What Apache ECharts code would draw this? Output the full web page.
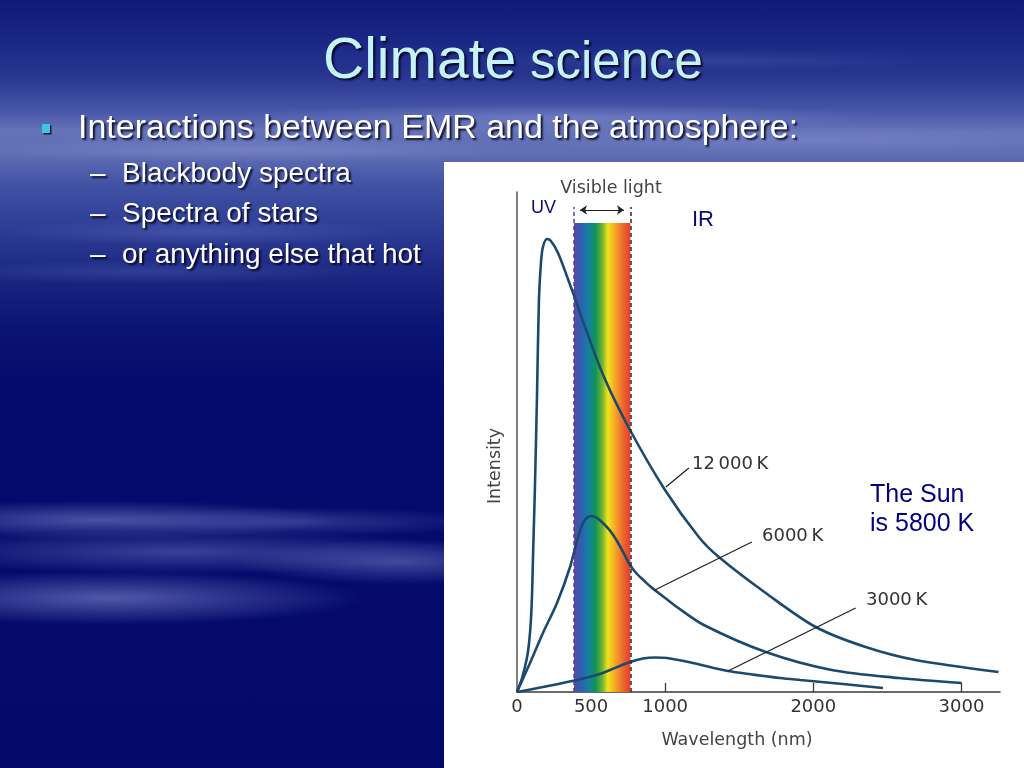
<!DOCTYPE html>
<html>
<head>
<meta charset="utf-8">
<script src="https://cdn.jsdelivr.net/npm/echarts@6.0.0/dist/echarts.min.js"></script>
<style>
html,body{margin:0;padding:0;width:1024px;height:768px;overflow:hidden;background:#04096a;}
#bg{position:absolute;left:0;top:0;width:1024px;height:768px;
background:
 radial-gradient(ellipse 320px 26px at 100px 520px, rgba(130,140,210,0.55), rgba(130,140,210,0) 75%),
 radial-gradient(ellipse 260px 20px at 300px 522px, rgba(120,130,205,0.35), rgba(120,130,205,0) 75%),
 radial-gradient(ellipse 380px 30px at 180px 552px, rgba(120,130,205,0.45), rgba(120,130,205,0) 75%),
 radial-gradient(ellipse 220px 30px at 400px 562px, rgba(120,130,205,0.5), rgba(120,130,205,0) 75%),
 radial-gradient(ellipse 340px 36px at 110px 598px, rgba(130,140,210,0.6), rgba(130,140,210,0) 75%),
 radial-gradient(ellipse 260px 18px at 200px 232px, rgba(120,135,205,0.3), rgba(120,135,205,0) 75%),
 radial-gradient(ellipse 300px 16px at 150px 272px, rgba(110,125,200,0.25), rgba(110,125,200,0) 75%),
 radial-gradient(ellipse 420px 20px at 560px 118px, rgba(150,160,220,0.4), rgba(150,160,220,0) 75%),
 radial-gradient(ellipse 380px 18px at 820px 140px, rgba(140,150,215,0.35), rgba(140,150,215,0) 75%),
 radial-gradient(ellipse 350px 16px at 250px 150px, rgba(150,160,220,0.35), rgba(150,160,220,0) 75%),
 radial-gradient(ellipse 320px 14px at 700px 60px, rgba(90,105,185,0.3), rgba(90,105,185,0) 75%),
 linear-gradient(180deg,#101a78 0%,#1a2684 5%,#283690 10%,#4452a6 14%,#6472b8 17%,#606eb4 20%,#4252a4 24%,#2c3b94 30%,#17237f 37%,#0a1372 43%,#050b6c 50%,#04096a 100%);
}
#panel{position:absolute;left:444px;top:162px;width:580px;height:606px;background:#ffffff;}
#chart{position:absolute;left:0;top:0;width:1024px;height:768px;}
</style>
</head>
<body>
<div id="bg"></div>
<div id="panel"></div>
<div id="chart"></div>
<script>
// ---- data (wavelength in nm, intensity in arbitrary units) ----
const wl12000 = [0, 34, 67, 82, 94, 102, 108, 115, 121, 135, 148, 162, 175, 202, 229, 277, 344, 405, 459, 587, 763, 999, 1227, 1362, 1679, 2016, 2353, 2690, 3250];
const in12000 = [0, 14, 34, 50, 72, 100, 135, 172, 205, 296, 392, 430, 445, 453, 451, 439, 413, 388, 365, 315, 262, 202, 155, 135, 99, 65, 45, 32, 20];

const wl6000 = [0, 88, 175, 270, 358, 412, 435, 458, 479, 505, 540, 580, 630, 675, 720, 763, 810, 860, 904, 1000, 1079, 1261, 1679, 2124, 2576, 3001];
const in6000 = [0, 29, 59, 89, 125, 155, 165, 172, 175, 176, 174, 169, 161, 151, 139, 127, 118, 111, 105, 94, 85, 67, 40, 22, 14, 9];

const wl3000 = [0, 175, 405, 560, 628, 763, 850, 930, 1012, 1188, 1424, 1775, 1911, 2200, 2470];
const in3000 = [0, 5, 12, 18, 22, 30, 33.5, 34.5, 34, 29, 21, 14, 12, 8, 4];

const visibleBand = [385, 765];          // nm
const xTickLabels = [0, 500, 1000, 2000, 3000];
const xTickMarks = [500, 1000, 2000, 3000];
const curveLabels = ['12\u2009000\u2009K', '6000\u2009K', '3000\u2009K'];

function zip(a, b) { return a.map((v, i) => [v, b[i]]); }

const chart = echarts.init(document.getElementById('chart'), null, {renderer: 'canvas'});

const curveColor = '#1c4a6e';
const figFont = '"DejaVu Sans", sans-serif';
const slideFont = '"Liberation Sans", Arial, sans-serif';

const spectrum = new echarts.graphic.LinearGradient(0, 0, 1, 0, [
  {offset: 0.00, color: '#5a4aa6'},
  {offset: 0.12, color: '#2f5db2'},
  {offset: 0.25, color: '#157fa6'},
  {offset: 0.38, color: '#0f9357'},
  {offset: 0.50, color: '#6fb232'},
  {offset: 0.60, color: '#f2e41a'},
  {offset: 0.70, color: '#f8b424'},
  {offset: 0.82, color: '#f07e2c'},
  {offset: 0.93, color: '#e8522e'},
  {offset: 1.00, color: '#e0402a'}
]);

function txt(x, y, text, opts) {
  return {
    type: 'text', x: x, y: y, z: 100, silent: true,
    style: Object.assign({text: text, align: 'left', verticalAlign: 'middle'}, opts)
  };
}

const shadowT = {textShadowColor: 'rgba(0,0,20,0.85)', textShadowBlur: 2, textShadowOffsetX: 2, textShadowOffsetY: 2};

function curve(name, xs, ys) {
  return {name: name, type: 'line', data: zip(xs, ys), smooth: 0.3, showSymbol: false, symbol: 'none', z: 3,
          lineStyle: {color: curveColor, width: 2.6}};
}

const option = {
  animation: false,
  backgroundColor: 'transparent',
  grid: {left: 517, right: 24, top: 192, bottom: 76, containLabel: false},
  xAxis: {
    type: 'value', min: 0, max: 3260,
    axisLine: {show: true, lineStyle: {color: '#3a3a3a', width: 1.5}},
    axisTick: {show: true, inside: true, length: 9, customValues: xTickMarks, lineStyle: {color: '#3a3a3a', width: 1.3}},
    axisLabel: {show: true, customValues: xTickLabels, formatter: v => String(v), color: '#333', fontSize: 18, fontFamily: figFont, margin: 6},
    splitLine: {show: false}
  },
  yAxis: {
    type: 'value', min: 0, max: 500,
    axisLine: {show: true, onZero: false, lineStyle: {color: '#555', width: 1.5}},
    axisTick: {show: false}, axisLabel: {show: false}, splitLine: {show: false}
  },
  series: [
    {
      type: 'line', data: [], z: 1, silent: true,
      markArea: {
        silent: true,
        itemStyle: {color: spectrum, opacity: 1},
        data: [[{xAxis: visibleBand[0], yAxis: 0}, {xAxis: visibleBand[1], yAxis: 469}]]
      },
      markLine: {
        silent: true, symbol: 'none', label: {show: false},
        data: [
          [{coord: [visibleBand[0], 0], lineStyle: {color: '#5b3c8c', type: [4, 3], width: 1.5}}, {coord: [visibleBand[0], 485]}],
          [{coord: [visibleBand[1], 0], lineStyle: {color: '#4a1e1e', type: [4, 3], width: 1.5}}, {coord: [visibleBand[1], 485]}]
        ]
      }
    },
    {
      type: 'line', data: [], z: 2, silent: true,
      markLine: {
        silent: true, symbol: ['arrow', 'arrow'], symbolSize: 7, label: {show: false},
        lineStyle: {color: '#222', type: 'solid', width: 1.2},
        data: [[{coord: [425, 482]}, {coord: [722, 482]}]]
      }
    },
    {
      type: 'line', data: [], z: 2, silent: true,
      markLine: {
        silent: true, symbol: 'none', label: {show: false},
        lineStyle: {color: '#222', type: 'solid', width: 1.3},
        data: [
          [{coord: [1005, 205]}, {coord: [1160, 224]}],
          [{coord: [930, 102]}, {coord: [1585, 150]}],
          [{coord: [1424, 21]}, {coord: [2286, 84]}]
        ]
      }
    },
    curve('12000 K', wl12000, in12000),
    curve('6000 K', wl6000, in6000),
    curve('3000 K', wl3000, in3000)
  ],
  graphic: [
    txt(323, 62, 'Climate', Object.assign({font: '57px ' + slideFont, fill: '#c6f3f8'}, shadowT)),
    txt(530, 64, 'science', Object.assign({font: '51px ' + slideFont, fill: '#c6f3f8'}, shadowT)),
    {type: 'rect', shape: {x: 42, y: 124, width: 8, height: 9}, z: 100, silent: true, style: {fill: '#3cc8dc', shadowColor: 'rgba(0,0,20,0.8)', shadowOffsetX: 1.5, shadowOffsetY: 1.5}},
    txt(78, 129, 'Interactions between EMR and the atmosphere:', Object.assign({font: '34px ' + slideFont, fill: '#ffffff'}, shadowT)),
    txt(90, 174, '\u2013', Object.assign({font: '28px ' + slideFont, fill: '#ffffff'}, shadowT)),
    txt(122, 174, 'Blackbody spectra', Object.assign({font: '28px ' + slideFont, fill: '#ffffff'}, shadowT)),
    txt(90, 214, '\u2013', Object.assign({font: '28px ' + slideFont, fill: '#ffffff'}, shadowT)),
    txt(122, 214, 'Spectra of stars', Object.assign({font: '28px ' + slideFont, fill: '#ffffff'}, shadowT)),
    txt(90, 255, '\u2013', Object.assign({font: '28px ' + slideFont, fill: '#ffffff'}, shadowT)),
    txt(122, 255, 'or anything else that hot', Object.assign({font: '28px ' + slideFont, fill: '#ffffff'}, shadowT)),
    txt(611, 188, 'Visible light', {font: '17.5px ' + figFont, fill: '#444', align: 'center'}),
    txt(531, 208, 'UV', {font: '18px ' + slideFont, fill: '#0c0c6e'}),
    txt(692, 220, 'IR', {font: '22px ' + slideFont, fill: '#0c0c6e'}),
    txt(692, 464, curveLabels[0], {font: '18px ' + figFont, fill: '#333'}),
    txt(762, 536, curveLabels[1], {font: '18px ' + figFont, fill: '#333'}),
    txt(866, 600, curveLabels[2], {font: '18px ' + figFont, fill: '#333'}),
    Object.assign(txt(495, 466, 'Intensity', {font: '17.5px ' + figFont, fill: '#444', align: 'center'}), {rotation: Math.PI / 2}),
    txt(737, 740, 'Wavelength (nm)', {font: '17.5px ' + figFont, fill: '#444', align: 'center'}),
    txt(870, 495, 'The Sun', {font: '25px ' + slideFont, fill: '#000080'}),
    txt(870, 524, 'is 5800 K', {font: '25px ' + slideFont, fill: '#000080'})
  ]
};
chart.setOption(option);
</script>
</body>
</html>
